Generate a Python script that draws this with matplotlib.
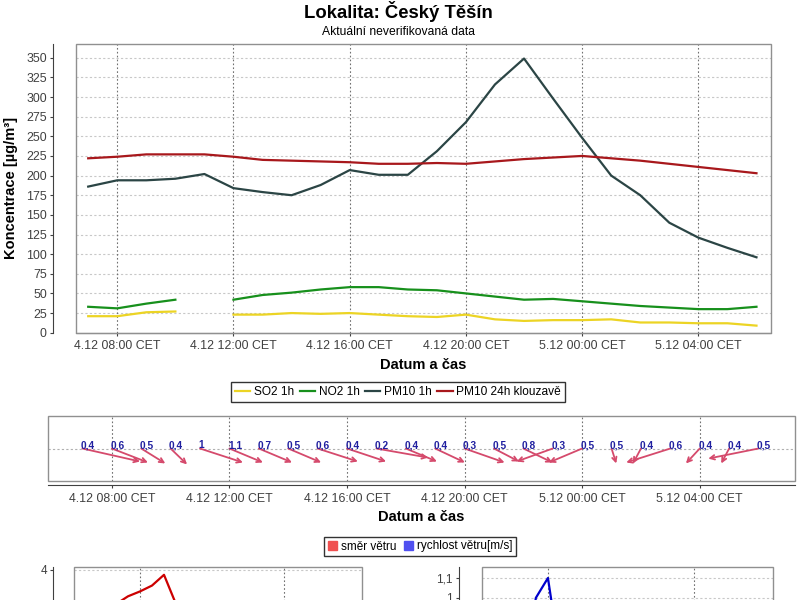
import numpy as np
import matplotlib
matplotlib.use('Agg')
import matplotlib.pyplot as plt
from matplotlib.lines import Line2D
from matplotlib.patches import Rectangle, Patch

plt.rcParams['font.family'] = ['Liberation Sans', 'DejaVu Sans']

# hourly data, hour 7 = 4.12 07:00, hour 24 = 5.12 00:00
hours = [7, 8, 9, 10, 11, 12, 13, 14, 15, 16, 17, 18,
         19, 20, 21, 22, 23, 24, 25, 26, 27, 28, 29, 30]
so2 = [21, 21, 26, 27, np.nan, 23, 23, 25, 24, 25, 23, 21,
       20, 23, 17, 15, 16, 16, 17, 13, 13, 12, 12, 9]
no2 = [33, 31, 37, 42, np.nan, 42, 48, 51, 55, 58, 58, 55,
       54, 50, 46, 42, 43, 40, 37, 34, 32, 30, 30, 33]
pm10 = [186, 194, 194, 196, 202, 184, 179, 175, 188, 207, 201, 201,
        231, 268, 316, 349, 298, 248, 200, 175, 140, 121, 108, 96]
pm10_24h = [222, 224, 227, 227, 227, 224, 220, 219, 218, 217, 215, 215,
            216, 215, 218, 221, 223, 225, 222, 219, 215, 211, 207, 203]

# wind: speed [m/s] and vector components (dx in hours, dy in panel units)
wind_speed = [0.4, 0.6, 0.5, 0.4, 1, 1.1, 0.7, 0.5, 0.6, 0.4, 0.2, 0.4,
              0.4, 0.3, 0.5, 0.8, 0.3, 0.5, 0.5, 0.4, 0.6, 0.4, 0.4, 0.5]
wind_dx = [1.96, 1.23, 0.82, 0.56, 1.46, 1.14, 1.13, 1.12, 1.37, 1.33, 1.76, 1.06,
           1.01, 1.36, 0.85, 0.99, -1.23, -1.13, 0.16, -0.27, -1.50, -0.47, -0.27, -1.71]
wind_dy = [-0.40, -0.43, -0.46, -0.49, -0.43, -0.43, -0.43, -0.43, -0.40, -0.40, -0.28, -0.40,
           -0.43, -0.43, -0.40, -0.43, -0.40, -0.43, -0.46, -0.46, -0.43, -0.46, -0.46, -0.31]

# wind direction chart (only the visible part)
dir_hours = [10, 11, 12, 13, 14, 15]
dir_values = [3.3, 3.46, 3.56, 3.68, 3.9, 3.3]

tick_hours = [8, 12, 16, 20, 24, 28]
tick_labels = ['4.12 08:00 CET', '4.12 12:00 CET', '4.12 16:00 CET',
               '4.12 20:00 CET', '5.12 00:00 CET', '5.12 04:00 CET']
series_names = ['SO2 1h', 'NO2 1h', 'PM10 1h', 'PM10 24h klouzavě']
series_colors = ['#ecd424', '#17901c', '#2b4545', '#a8181c']

GRID_H = dict(color='#c8c8c8', linestyle=(0, (2, 2)), linewidth=0.8)
GRID_V = dict(color='#707070', linestyle=(0, (1.5, 2)), linewidth=0.8)
FRAME = '#909090'
AXIS = '#404040'
TICK_FS = 8.9
LABEL_FS = 10.5


def px(x0, y0, x1, y1):
    # pixel box -> figure fraction rect
    return [x0 / 800, 1 - y1 / 600, (x1 - x0) / 800, (y1 - y0) / 600]


def frame(ax):
    for s in ax.spines.values():
        s.set_visible(False)
    ax.add_patch(Rectangle((0, 0), 1, 1, transform=ax.transAxes, fill=False,
                           edgecolor=FRAME, linewidth=1, clip_on=False, zorder=5))


fig = plt.figure(figsize=(8, 6), dpi=100)
fig.text(398 / 800, 1 - 11 / 600, 'Lokalita: Český Těšín', ha='center', va='center',
         fontsize=13.3, fontweight='bold')
fig.text(399 / 800, 1 - 32 / 600, 'Aktuální neverifikovaná data', ha='center', va='center',
         fontsize=8.7)

# ---- main concentration chart
ax = fig.add_axes(px(76, 44, 771, 332.7))
frame(ax)
data = [so2, no2, pm10, pm10_24h]
for vals, name, col in zip(data, series_names, series_colors):
    ax.plot(hours, vals, color=col, linewidth=1.6, label=name, zorder=3)
ax.set_xlim(6.58, 30.5)
ax.set_ylim(0, 367.5)
ax.set_yticks(np.arange(0, 351, 25))
ax.set_xticks(tick_hours)
ax.set_xticklabels(tick_labels)
for y in np.arange(25, 351, 25):
    ax.axhline(y, zorder=1, **GRID_H)
for x in tick_hours:
    ax.axvline(x, zorder=1, **GRID_V)
ax.spines['left'].set_visible(True)
ax.spines['left'].set_position(('outward', 16.5))
ax.spines['left'].set_color(AXIS)
ax.spines['bottom'].set_visible(True)
ax.spines['bottom'].set_color(AXIS)
ax.tick_params(axis='both', labelsize=TICK_FS, colors=AXIS, length=2.5, width=0.8, pad=2)
ax.tick_params(axis='x', pad=3)
ax.set_xlabel('Datum a čas', fontsize=LABEL_FS, fontweight='bold', labelpad=4)
ax.set_ylabel('Koncentrace [µg/m³]', fontsize=LABEL_FS, fontweight='bold')
ax.yaxis.set_label_coords(-0.083, 0.5)

handles = [Line2D([], [], color=c, linewidth=1.6) for c in series_colors]
leg = fig.legend(handles, series_names, loc='center', bbox_to_anchor=(398 / 800, 1 - 392 / 600),
                 ncol=4, fontsize=8.6, frameon=True, fancybox=False, edgecolor='black',
                 handlelength=1.3, handletextpad=0.3, columnspacing=0.45, borderpad=0.3)
leg.get_frame().set_linewidth(1)

# ---- wind vector panel
axw = fig.add_axes(px(48.3, 416, 795, 481))
frame(axw)
axw.set_xlim(5.84, 31.24)
axw.set_ylim(-1, 1)
axw.axhline(0, color='#b0b0b0', linestyle=(0, (2, 2)), linewidth=0.8, zorder=1)
for x in tick_hours:
    axw.axvline(x, zorder=1, **GRID_V)
for h, s, u, v in zip(hours, wind_speed, wind_dx, wind_dy):
    axw.annotate('', xy=(h + u, v), xytext=(h, 0),
                 arrowprops=dict(arrowstyle='->', color='#d54a6c', lw=1.3,
                                 shrinkA=0, shrinkB=0, mutation_scale=8), zorder=3)
    axw.text(h - 0.05, 0.0, f'{s:g}'.replace('.', ','), color='#2020a0', fontsize=7.3,
             fontweight='bold', ha='left', va='baseline', zorder=4)
axw.set_yticks([])
axw.set_xticks(tick_hours)
axw.set_xticklabels(tick_labels)
axw.spines['bottom'].set_visible(True)
axw.spines['bottom'].set_position(('outward', 3))
axw.spines['bottom'].set_color(AXIS)
axw.tick_params(axis='x', labelsize=TICK_FS, colors=AXIS, length=2.5, width=0.8, pad=3)
axw.set_xlabel('Datum a čas', fontsize=LABEL_FS, fontweight='bold', labelpad=4)

leg2 = fig.legend([Patch(color='#f05050'), Patch(color='#5050f0')],
                  ['směr větru', 'rychlost větru[m/s]'], loc='center',
                  bbox_to_anchor=(420 / 800, 1 - 546.5 / 600), ncol=2, fontsize=8.5,
                  frameon=True, fancybox=False, edgecolor='black', handlelength=0.8,
                  handleheight=0.8, handletextpad=0.3, columnspacing=0.6, borderpad=0.3)
leg2.get_frame().set_linewidth(1)

# ---- wind direction (left) and wind speed (right), cut off by the figure bottom
axd = fig.add_axes(px(74, 567, 362, 778))
frame(axd)
axd.plot(dir_hours, dir_values, color='#cc0000', linewidth=1.6, zorder=3)
axd.set_xlim(6.5, 30.5)
axd.set_ylim(-0.26, 4.06)
axd.set_yticks([4])
axd.set_xticks([12, 24])
axd.set_xticklabels([])

axs = fig.add_axes(px(482, 567, 773, 778))
frame(axs)
axs.plot(hours, wind_speed, color='#0000cc', linewidth=1.6, zorder=3)
axs.set_xlim(6.58, 30.5)
axs.set_ylim(0.1, 1.155)
axs.set_yticks([1.0, 1.1])
axs.set_yticklabels(['1', '1,1'])
axs.set_xticks([12, 24])
axs.set_xticklabels([])

for a, off in ((axd, 15), (axs, 16.5)):
    for y in a.get_yticks():
        a.axhline(y, zorder=1, **GRID_H)
    for x in a.get_xticks():
        a.axvline(x, zorder=1, **GRID_V)
    a.spines['left'].set_visible(True)
    a.spines['left'].set_position(('outward', off))
    a.spines['left'].set_color(AXIS)
    a.tick_params(axis='y', labelsize=8.5, colors=AXIS, length=2.5, width=0.8, pad=2)
    a.tick_params(axis='x', length=0)

fig.savefig('out.png', dpi=100)
